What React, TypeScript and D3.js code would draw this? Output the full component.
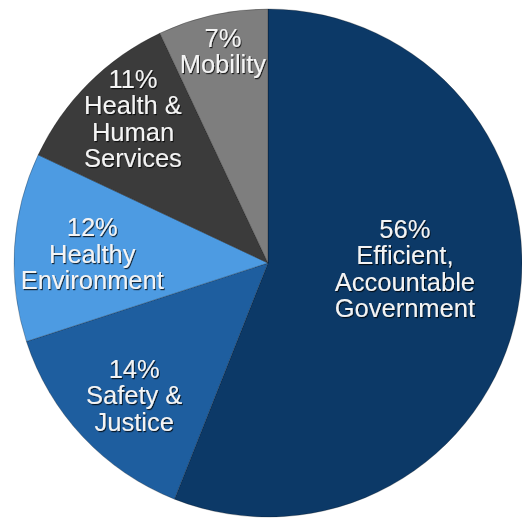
import * as d3 from "d3";

const WIDTH = 522;
const HEIGHT = 518;

// slices, clockwise from 12 o'clock
const categories = ["Efficient, Accountable Government", "Safety & Justice", "Healthy Environment", "Health & Human Services", "Mobility"];
const shares = [56, 14, 12, 11, 7];
const labelLines = [
    ["Efficient,", "Accountable", "Government"],
    ["Safety &", "Justice"],
    ["Healthy", "Environment"],
    ["Health &", "Human", "Services"],
    ["Mobility"],
];
const colors = ["#0c3967", "#1e5e9f", "#4d9be2", "#3b3b3b", "#7e7e7e"];

// where each label block sits: angle (deg, clockwise from top) and distance from centre
const labelPlacement = [
    { angle: 92.3, r: 137 },
    { angle: 225.4, r: 188 },
    { angle: 273, r: 176 },
    { angle: 317, r: 198 },
    { angle: 348, r: 217 },
];

const CX = 268;
const CY = 263;
const RADIUS = 254;
const FONT_SIZE = 25.5;
const LINE_HEIGHT = 26.5;
const CAP = FONT_SIZE * 0.716;

type Slice = { name: string; value: number; index: number };

export default function App() {
    const rows: Slice[] = categories.map((name, i) => ({ name, value: shares[i], index: i }));
    const pie = d3
        .pie<Slice>()
        .value((d) => d.value)
        .sort(null)
        .startAngle(0)
        .endAngle(2 * Math.PI);
    const arcs = pie(rows);
    const arc = d3.arc<d3.PieArcDatum<Slice>>().innerRadius(0).outerRadius(RADIUS);

    return (
        <svg
            width={WIDTH}
            height={HEIGHT}
            style={{ position: "absolute", left: 0, top: 0, background: "#fff" }}
            fontFamily="'Liberation Sans', Arial, Helvetica, sans-serif"
        >
            <defs>
                <filter id="txtShadow" x="-20%" y="-20%" width="140%" height="140%">
                    <feDropShadow dx="1" dy="1.2" stdDeviation="0.7" floodColor="#000" floodOpacity="0.75" />
                </filter>
            </defs>
            <g transform={`translate(${CX},${CY})`}>
                {arcs.map((a) => (
                    <path key={a.data.name} d={arc(a) ?? ""} fill={colors[a.index]} stroke="rgba(0,0,0,0.25)" strokeWidth={1} />
                ))}
                {arcs.map((a) => {
                    const p = labelPlacement[a.index];
                    const rad = (p.angle * Math.PI) / 180;
                    const x = p.r * Math.sin(rad);
                    const y = -p.r * Math.cos(rad);
                    const lines = [`${a.data.value}%`, ...labelLines[a.index]];
                    const firstBaseline = y - ((lines.length - 1) * LINE_HEIGHT) / 2 + CAP / 2;
                    return (
                        <text
                            key={`lbl-${a.data.name}`}
                            x={x}
                            y={firstBaseline}
                            textAnchor="middle"
                            fontSize={FONT_SIZE}
                            fill="#f4f4f4"
                            filter="url(#txtShadow)"
                        >
                            {lines.map((line, i) => (
                                <tspan key={i} x={x} y={firstBaseline + i * LINE_HEIGHT}>
                                    {line}
                                </tspan>
                            ))}
                        </text>
                    );
                })}
            </g>
        </svg>
    );
}
